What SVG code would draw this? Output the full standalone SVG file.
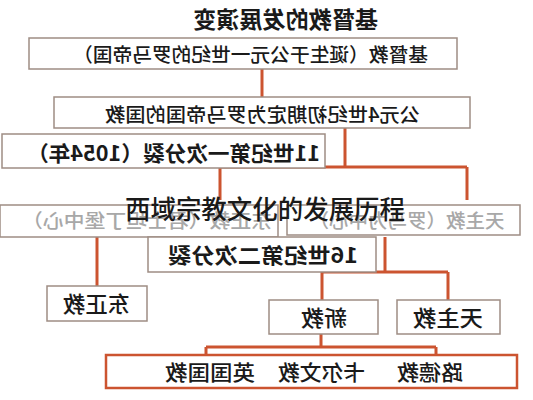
<svg xmlns="http://www.w3.org/2000/svg" width="533" height="400" viewBox="0 0 533 400">
<defs>
<style>
.box{fill:#fff;stroke:#9e8d84;stroke-width:1.5}
.boxr{fill:#fff;stroke:#cc5430;stroke-width:2.5}
.ln{fill:none;stroke:#cc5430;stroke-width:3}
.t{font-family:"Noto Sans CJK SC","Noto Sans CJK JP",sans-serif;fill:#1a1a1a;text-anchor:middle;font-weight:500}
.b{font-weight:bold}
.f{fill:#a8a8a8}
</style>
</defs>
<rect width="533" height="400" fill="#fff"/>
<g id="connectors">
<path class="ln" d="M262 69V97"/>
<path class="ln" d="M345 128V167M220 167H467M220 167V200M467 167V200"/>
<path class="ln" d="M97 237V286"/>
<path class="ln" d="M385 237V272M322 272H448M322 272V300M448 272V300"/>
<path class="ln" d="M321 334V347M206 347H436M206 347V355M436 347V355"/>
</g>
<g id="title"><text class="t b" font-size="23" transform="translate(285.5,28) scale(-1,1)" textLength="185" lengthAdjust="spacingAndGlyphs">基督教的发展演变</text></g>
<g id="n1"><rect class="box" x="29" y="38" width="428" height="31"/><text class="t" font-size="19.5" transform="translate(250.5,62) scale(-1,1)" textLength="355" lengthAdjust="spacingAndGlyphs">基督教（诞生于公元一世纪的罗马帝国）</text></g>
<g id="n2"><rect class="box" x="54" y="97" width="416" height="31"/><text class="t" font-size="19.5" transform="translate(262.5,122) scale(-1,1)" textLength="315" lengthAdjust="spacingAndGlyphs">公元4世纪初期定为罗马帝国的国教</text></g>
<g id="n3"><rect class="box" x="2" y="134" width="323" height="34"/><text class="t b" font-size="21" transform="translate(173.5,161) scale(-1,1)" textLength="293" lengthAdjust="spacingAndGlyphs">11世纪第一次分裂（1054年）</text></g>
<g id="n4"><rect class="box" x="0" y="205" width="278" height="32" stroke="#d8ccc6"/><text class="t f" font-size="19" transform="translate(147,228) scale(-1,1)" textLength="250" lengthAdjust="spacingAndGlyphs">东正教（君士坦丁堡中心）</text></g>
<g id="n5"><rect class="box" x="287" y="205" width="233" height="30" stroke="#d8ccc6"/><text class="t f" font-size="19" transform="translate(407,228) scale(-1,1)" textLength="195" lengthAdjust="spacingAndGlyphs">天主教（罗马为中心）</text></g>
<g id="n6"><rect class="box" x="148" y="237" width="228" height="35"/><text class="t b" font-size="21" transform="translate(263,263) scale(-1,1)" textLength="190" lengthAdjust="spacingAndGlyphs">16世纪第二次分裂</text></g>
<g id="n7"><rect class="box" x="47" y="286" width="100" height="35"/><text class="t" font-size="22" transform="translate(96.5,312) scale(-1,1)" textLength="67" lengthAdjust="spacingAndGlyphs">东正教</text></g>
<g id="n8"><rect class="box" x="269" y="300" width="109" height="34"/><text class="t" font-size="22" transform="translate(324,326) scale(-1,1)" textLength="46" lengthAdjust="spacingAndGlyphs">新教</text></g>
<g id="n9"><rect class="box" x="397" y="300" width="103" height="34"/><text class="t" font-size="22" transform="translate(448,326) scale(-1,1)" textLength="70" lengthAdjust="spacingAndGlyphs">天主教</text></g>
<g id="n10"><rect class="boxr" x="106" y="355" width="411" height="33"/>
<text class="t" font-size="21" transform="translate(430,380) scale(-1,1)" textLength="66" lengthAdjust="spacingAndGlyphs">路德教</text>
<text class="t" font-size="21" transform="translate(321.5,380) scale(-1,1)" textLength="87" lengthAdjust="spacingAndGlyphs">卡尔文教</text>
<text class="t" font-size="21" transform="translate(210,380) scale(-1,1)" textLength="90" lengthAdjust="spacingAndGlyphs">英国国教</text></g>
<g id="watermark"><text class="t" font-size="26" fill="#333" font-weight="400" x="265" y="219" textLength="280" lengthAdjust="spacingAndGlyphs">西域宗教文化的发展历程</text></g>
</svg>
